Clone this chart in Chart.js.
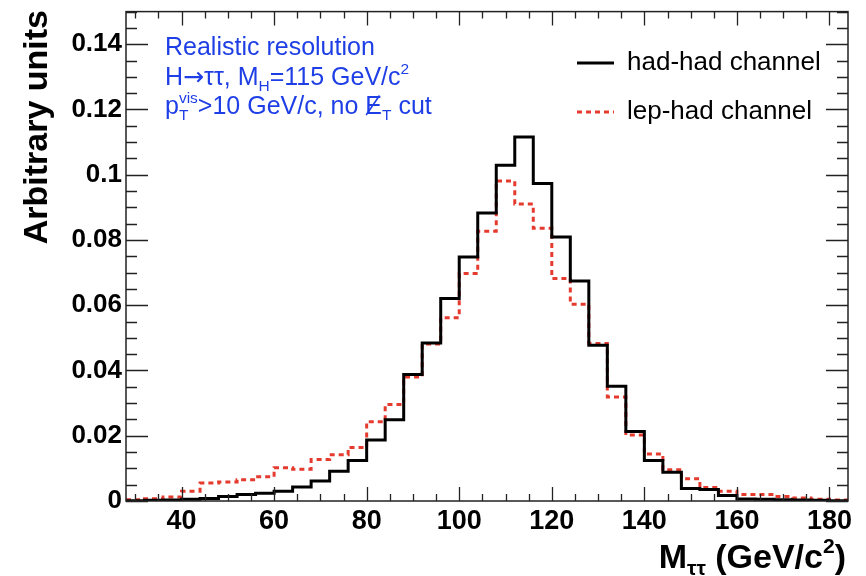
<!DOCTYPE html>
<html>
<head>
<meta charset="utf-8">
<script src="https://cdn.jsdelivr.net/npm/chart.js@4.4.1/dist/chart.umd.min.js"></script>
<style>
  html, body { margin: 0; padding: 0; background: #fff; }
  #wrap { width: 866px; height: 576px; }
</style>
</head>
<body>
<div id="wrap"><canvas id="c" width="866" height="576"></canvas></div>
<script>
// ===== Data (bin lower edges, width 4 GeV/c^2)
const binEdges = [28, 32, 36, 40, 44, 48, 52, 56, 60, 64, 68, 72, 76, 80, 84, 88, 92, 96, 100, 104,
                  108, 112, 116, 120, 124, 128, 132, 136, 140, 144, 148, 152, 156, 160, 164, 168, 172, 176, 180];
const lastEdge = 184;

const hadHad = [0.0001, 0.0002, 0.0003, 0.0005, 0.0008, 0.0014, 0.0020, 0.0024, 0.0030, 0.0043,
                0.0061, 0.0091, 0.0124, 0.0187, 0.0249, 0.0388, 0.0484, 0.0621, 0.0748, 0.0883,
                0.1029, 0.1116, 0.0973, 0.0809, 0.0674, 0.0477, 0.0352, 0.0213, 0.0124, 0.0088,
                0.0038, 0.0035, 0.0017, 0.0006, 0.0005, 0.0004, 0.0003, 0.0002, 0.0001];

const lepHad = [0.0004, 0.0007, 0.0012, 0.0030, 0.0055, 0.0058, 0.0065, 0.0074, 0.0102, 0.0097,
                0.0127, 0.0142, 0.0164, 0.0243, 0.0296, 0.0380, 0.0481, 0.0562, 0.0697, 0.0827,
                0.0981, 0.0910, 0.0836, 0.0682, 0.0603, 0.0483, 0.0319, 0.0202, 0.0144, 0.0096,
                0.0068, 0.0041, 0.0030, 0.0020, 0.0020, 0.0014, 0.0009, 0.0005, 0.0003];

const xTickValues = [40, 60, 80, 100, 120, 140, 160, 180];
const yTickValues = [0, 0.02, 0.04, 0.06, 0.08, 0.1, 0.12, 0.14];
const yTickLabels = ['0', '0.02', '0.04', '0.06', '0.08', '0.1', '0.12', '0.14'];

const seriesNames = ['had-had channel', 'lep-had channel'];

// ===== Styles
const FONT = '"Liberation Sans", Arial, Helvetica, sans-serif';
const SYM = '"DejaVu Sans", sans-serif';
const RED = '#e53b2f';
const BLUE = '#1f3fe6';

// histogram as step line: value i holds on [edge i, edge i+1]
function toSteps(vals) {
  const pts = binEdges.map((e, i) => ({ x: e, y: vals[i] }));
  pts.push({ x: lastEdge, y: vals[vals.length - 1] });
  return pts;
}

function partFont(p, size, weight) {
  const s = (p.sub || p.sup) ? size * 0.62 : size;
  return `${weight} ${s}px ${p.sym ? SYM : FONT}`;
}

// draw text made of parts: { t, sub, sup, noAdv, slash, sym }
function drawRich(ctx, x, y, parts, size, weight, color) {
  ctx.save();
  ctx.fillStyle = color;
  ctx.strokeStyle = color;
  ctx.textBaseline = 'alphabetic';
  ctx.textAlign = 'left';
  let cx = x;
  parts.forEach(p => {
    ctx.font = partFont(p, size, weight);
    let dy = 0;
    if (p.sub) dy = size * 0.22;
    if (p.sup) dy = -size * 0.45;
    ctx.fillText(p.t, cx, y + dy);
    const w = ctx.measureText(p.t).width;
    if (p.slash) {
      ctx.lineWidth = 1.6;
      ctx.beginPath();
      ctx.moveTo(cx + w * 0.05, y + 1);
      ctx.lineTo(cx + w * 0.85, y - size * 0.74);
      ctx.stroke();
    }
    if (!p.noAdv) cx += w;
  });
  ctx.restore();
  return cx;
}

function richWidth(ctx, parts, size, weight) {
  let w = 0;
  ctx.save();
  parts.forEach(p => {
    ctx.font = partFont(p, size, weight);
    if (!p.noAdv) w += ctx.measureText(p.t).width;
  });
  ctx.restore();
  return w;
}

// ===== Frame, ROOT-style inward ticks, titles, annotations, legend
const decorPlugin = {
  id: 'decor',
  afterDraw(chart) {
    const { ctx, chartArea: a, scales } = chart;
    const xs = scales.x, ys = scales.y;
    ctx.save();
    ctx.strokeStyle = '#222';
    ctx.lineWidth = 1.5;
    ctx.strokeRect(a.left, a.top, a.right - a.left, a.bottom - a.top);

    ctx.lineWidth = 1.3;
    ctx.beginPath();
    // x ticks, every 5 units, major every 20
    for (let v = 30; v <= 184; v += 5) {
      const px = Math.round(xs.getPixelForValue(v)) + 0.5;
      const len = v % 20 === 0 ? 14 : 7;
      ctx.moveTo(px, a.bottom); ctx.lineTo(px, a.bottom - len);
      ctx.moveTo(px, a.top); ctx.lineTo(px, a.top + len);
    }
    // y ticks, every 0.005, major every 0.02
    for (let k = 0; k <= 30; k++) {
      const v = k * 0.005;
      const py = Math.round(ys.getPixelForValue(v)) + 0.5;
      const len = k % 4 === 0 ? 22 : 11;
      ctx.moveTo(a.left, py); ctx.lineTo(a.left + len, py);
      ctx.moveTo(a.right, py); ctx.lineTo(a.right - len, py);
    }
    ctx.stroke();

    // y title
    ctx.save();
    ctx.translate(47, 10);
    ctx.rotate(-Math.PI / 2);
    ctx.font = `bold 34px ${FONT}`;
    ctx.fillStyle = '#000';
    ctx.textAlign = 'right';
    ctx.textBaseline = 'alphabetic';
    ctx.fillText('Arbitrary units', 0, 0);
    ctx.restore();

    // x title
    const xt = [{ t: 'M' }, { t: 'ττ', sub: true }, { t: ' (GeV/c' }, { t: '2', sup: true }, { t: ')' }];
    const xw = richWidth(ctx, xt, 34, 'bold');
    drawRich(ctx, 846 - xw, 568, xt, 34, 'bold', '#000');

    // annotation
    drawRich(ctx, 165, 55, [{ t: 'Realistic resolution' }], 25, 'normal', BLUE);
    drawRich(ctx, 165, 85, [{ t: 'H' }, { t: '→', sym: true }, { t: 'ττ, M' }, { t: 'H', sub: true },
      { t: '=115 GeV/c' }, { t: '2', sup: true }], 25, 'normal', BLUE);
    drawRich(ctx, 165, 114, [{ t: 'p' }, { t: 'T', sub: true, noAdv: true }, { t: 'vis', sup: true },
      { t: '>10 GeV/c, no ' }, { t: 'E', slash: true }, { t: 'T', sub: true }, { t: ' cut' }], 25, 'normal', BLUE);

    // legend
    const ds = chart.data.datasets;
    const rows = [63, 112];
    ds.forEach((d, i) => {
      const y = rows[i];
      ctx.save();
      ctx.strokeStyle = d.borderColor;
      ctx.lineWidth = d.borderWidth;
      ctx.setLineDash(d.borderDash || []);
      ctx.beginPath();
      ctx.moveTo(577, y); ctx.lineTo(614, y);
      ctx.stroke();
      ctx.restore();
      ctx.font = `26px ${FONT}`;
      ctx.fillStyle = '#000';
      ctx.textBaseline = 'middle';
      ctx.textAlign = 'left';
      ctx.fillText(d.label, 627, y);
    });
    ctx.restore();
  }
};

new Chart(document.getElementById('c'), {
  type: 'line',
  data: {
    datasets: [
      { label: seriesNames[0], data: toSteps(hadHad), stepped: 'before', borderColor: '#000',
        borderWidth: 3, pointRadius: 0, fill: false },
      { label: seriesNames[1], data: toSteps(lepHad), stepped: 'before', borderColor: RED,
        borderWidth: 3, borderDash: [5, 4], pointRadius: 0, fill: false }
    ]
  },
  options: {
    responsive: false,
    animation: false,
    events: [],
    layout: { padding: { left: 0, right: 18, top: 8, bottom: 0 } },
    plugins: { legend: { display: false }, tooltip: { enabled: false } },
    scales: {
      x: {
        type: 'linear', min: 28, max: lastEdge,
        grid: { display: false }, border: { display: false },
        afterBuildTicks: s => { s.ticks = xTickValues.map(v => ({ value: v })); },
        afterFit: s => { s.height = 75; },
        ticks: { color: '#000', font: { family: FONT, size: 27, weight: 'bold' }, padding: -4,
                 maxRotation: 0, autoSkip: false }
      },
      y: {
        min: 0, max: 0.15,
        grid: { display: false }, border: { display: false },
        afterBuildTicks: s => { s.ticks = yTickValues.map(v => ({ value: v })); },
        afterFit: s => { s.width = 126; },
        ticks: { color: '#000', font: { family: FONT, size: 26, weight: 'bold' }, padding: -4,
                 callback: (v, i) => yTickLabels[i] }
      }
    }
  },
  plugins: [decorPlugin]
});
</script>
</body>
</html>
